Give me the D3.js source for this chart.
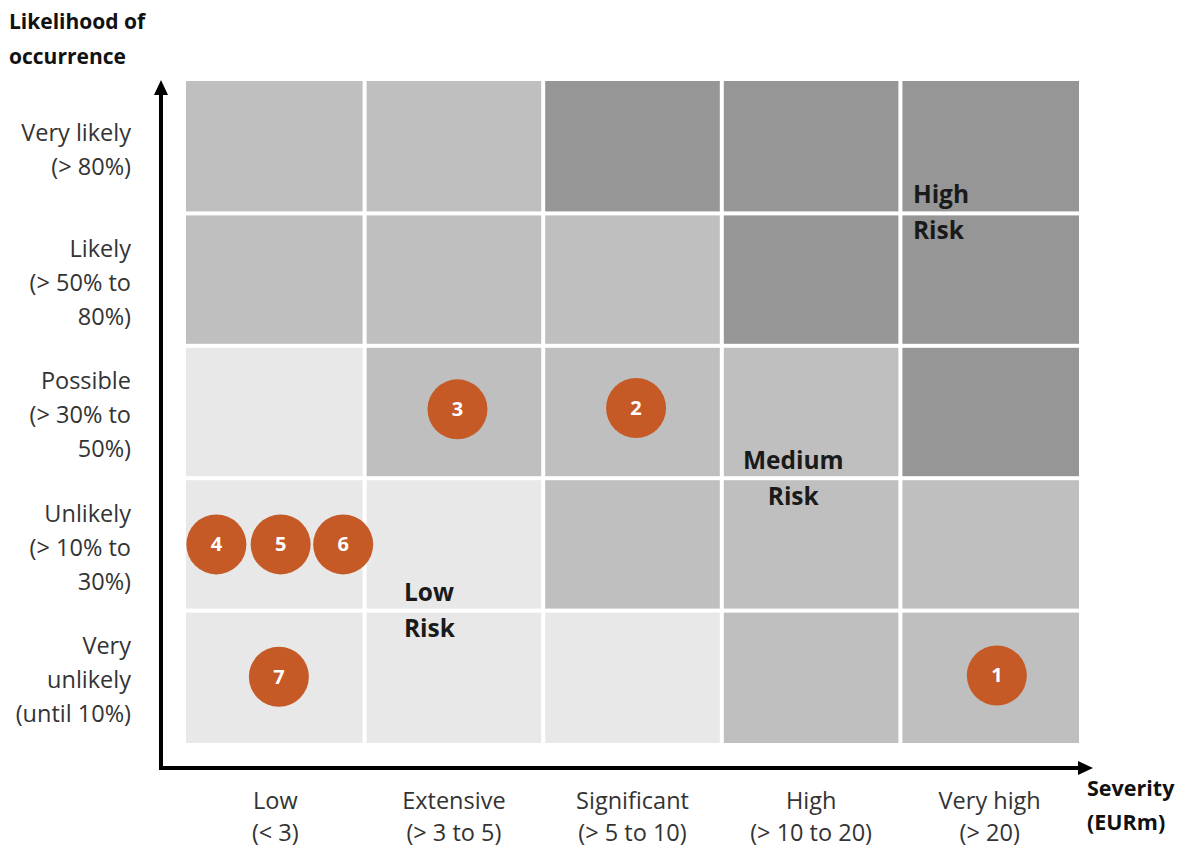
<!DOCTYPE html>
<html><head><meta charset="utf-8">
<script src="https://cdn.jsdelivr.net/npm/d3@7"></script>
<style>html,body{margin:0;padding:0;background:#fff;}svg{display:block;font-family:"Open Sans",Lato,sans-serif;}</style>
</head><body><svg id="c" width="1180" height="848"></svg>
<script>
// Categories
const severityCats = ["Low|(< 3)", "Extensive|(> 3 to 5)", "Significant|(> 5 to 10)", "High|(> 10 to 20)", "Very high|(> 20)"];
const likelihoodCats = ["Very|unlikely|(until 10%)", "Unlikely|(> 10% to|30%)", "Possible|(> 30% to|50%)", "Likely|(> 50% to|80%)", "Very likely|(> 80%)"];
// Risk level per cell: rows = likelihood (bottom→top), cols = severity; 0 low, 1 medium, 2 high
const riskLevels = [
  [0,0,0,1,1],
  [0,0,1,1,1],
  [0,1,1,1,2],
  [1,1,1,2,2],
  [1,1,2,2,2]
];
// Risk items: severity / likelihood positions in category units
const riskIds = [1,2,3,4,5,6,7];
const riskSeverity = [4.54, 2.52, 1.52, 0.17, 0.53, 0.88, 0.52];
const riskLikelihood = [0.51, 2.53, 2.52, 1.50, 1.50, 1.50, 0.50];
// Zone labels
const zoneNames = ["Low|Risk", "Medium|Risk", "High|Risk"];
const zoneSeverity = [1.22, 3.40, 4.07];
const zoneLikelihood = [1.0, 2.0, 4.01];
const zoneAnchor = ["start", "middle", "start"];

const fills = ["#e8e8e8", "#bfbfbf", "#969696"];
const svg = d3.select("#c");
const x = d3.scaleLinear().domain([0,5]).range([186, 1079]);
const y = d3.scaleLinear().domain([0,5]).range([743, 81]);
const gap = 2;

const cells = [];
riskLevels.forEach((row, r) => row.forEach((lv, c) => cells.push({r, c, lv})));
svg.append("g").selectAll("rect").data(cells).join("rect")
  .attr("x", d => x(d.c) + (d.c > 0 ? gap : 0))
  .attr("y", d => y(d.r + 1) + (d.r < 4 ? gap : 0))
  .attr("width", d => x(d.c + 1) - x(d.c) - (d.c > 0 ? gap : 0) - (d.c < 4 ? gap : 0))
  .attr("height", d => y(d.r) - y(d.r + 1) - (d.r < 4 ? gap : 0) - (d.r > 0 ? gap : 0))
  .attr("fill", d => fills[d.lv]);

// axes
const ax = svg.append("g");
ax.append("line").attr("x1", 161).attr("x2", 161).attr("y1", 770).attr("y2", 92).attr("stroke", "#000").attr("stroke-width", 4);
ax.append("path").attr("d", "M161,80 L154,95 L168,95 Z").attr("fill", "#000");
ax.append("line").attr("x1", 159).attr("x2", 1080).attr("y1", 768).attr("y2", 768).attr("stroke", "#000").attr("stroke-width", 4);
ax.append("path").attr("d", "M1093,768 L1078,761 L1078,775 Z").attr("fill", "#000");

const tickSize = 23.5;
// y tick labels
const lh = 34;
likelihoodCats.forEach((lab, i) => {
  const lines = lab.split("|");
  const cy = (y(i) + y(i + 1)) / 2 + 3;
  const t = svg.append("text").attr("text-anchor", "end").attr("font-size", tickSize).attr("fill", "#333");
  lines.forEach((ln, k) => {
    t.append("tspan").attr("x", 131).attr("y", cy + (k - (lines.length - 1) / 2) * lh).attr("dy", "0.35em").text(ln);
  });
});
// x tick labels
severityCats.forEach((lab, i) => {
  const lines = lab.split("|");
  const cx = (x(i) + x(i + 1)) / 2;
  const t = svg.append("text").attr("text-anchor", "middle").attr("font-size", tickSize).attr("fill", "#333");
  lines.forEach((ln, k) => {
    t.append("tspan").attr("x", cx).attr("y", 801 + k * 32).attr("dy", "0.35em").text(ln);
  });
});

// axis titles
const yt = svg.append("text").attr("font-size", 21).attr("font-weight", "bold").attr("fill", "#111");
yt.append("tspan").attr("x", 9).attr("y", 22).attr("dy", "0.35em").text("Likelihood of");
yt.append("tspan").attr("x", 9).attr("y", 57).attr("dy", "0.35em").text("occurrence");
const xt = svg.append("text").attr("font-size", 21.5).attr("font-weight", "bold").attr("fill", "#111");
xt.append("tspan").attr("x", 1087).attr("y", 788).attr("dy", "0.35em").text("Severity");
xt.append("tspan").attr("x", 1087).attr("y", 822).attr("dy", "0.35em").text("(EURm)");

// zone labels
zoneNames.forEach((lab, i) => {
  const lines = lab.split("|");
  const t = svg.append("text").attr("text-anchor", zoneAnchor[i]).attr("font-size", 24.5).attr("font-weight", "bold").attr("fill", "#1a1a1a");
  lines.forEach((ln, k) => {
    t.append("tspan").attr("x", x(zoneSeverity[i])).attr("y", y(zoneLikelihood[i]) + (k - 0.5) * 36).attr("dy", "0.35em").text(ln);
  });
});

// risk circles
const pts = riskIds.map((id, i) => ({id, s: riskSeverity[i], l: riskLikelihood[i]}));
const g = svg.append("g").selectAll("g").data(pts).join("g")
  .attr("transform", d => `translate(${x(d.s)},${y(d.l)})`);
g.append("circle").attr("r", 30).attr("fill", "#c55a27");
g.append("text").attr("text-anchor", "middle").attr("dy", "0.35em").attr("font-size", 20).attr("font-weight", "bold").attr("fill", "#fff").text(d => d.id);
</script></body></html>
